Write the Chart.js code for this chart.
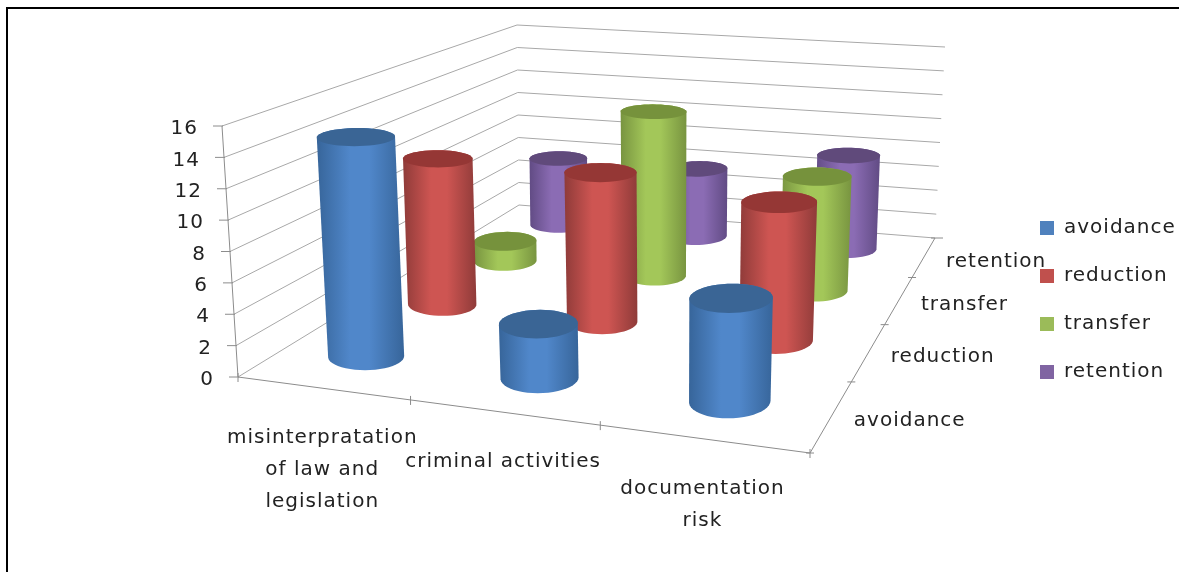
<!DOCTYPE html>
<html>
<head>
<meta charset="utf-8">
<title>Risk response by risk type</title>
<script src="https://cdn.jsdelivr.net/npm/chart.js@4"></script>
<style>
  html, body { margin: 0; background: #fff; overflow: hidden; }
  #frame { position: absolute; left: 6px; top: 7px; right: 0; bottom: 0; border-left: 2px solid #000; border-top: 2px solid #000; }
  #riskChart { position: absolute; left: 0; top: 0; display: block; }
</style>
</head>
<body>
<div id="frame"></div>
<canvas id="riskChart" width="1179" height="572"></canvas>
<script>
const categories = [
  ["misinterpratation", "of law and", "legislation"],
  ["criminal activities"],
  ["documentation", "risk"],
];
const seriesNames = ["avoidance", "reduction", "transfer", "retention"];
const avoidance = [14, 3, 6];
const reduction = [10, 10, 9];
const transfer = [1, 12, 8];
const retention = [5, 5, 7];
const valueTicks = [0, 2, 4, 6, 8, 10, 12, 14, 16];

const seriesColors = ["#4F81BD", "#C0504D", "#9BBB59", "#8064A2"];
// edge, middle and lid shades of each cylinder
const shades = [
  { edge: "#37659A", mid: "#5087CA", lid: "#3A6595" },
  { edge: "#8F3B39", mid: "#CE5552", lid: "#953735" },
  { edge: "#789440", mid: "#A3C759", lid: "#76923C" },
  { edge: "#614B84", mid: "#8B6CB4", lid: "#604A7B" },
];
const textColor = "#222222";
const textFont = "20px 'DejaVu Sans'";

// corners of the floor and of the 16 level on screen: front left, front right, back right, back left
const floorQuad = [[238, 377], [810, 453], [935, 238], [519, 205]];
const ceilQuad = [[222, 126], [820, 180], [945, 47], [517, 25]];

function quadMap(q) {
  const [[x0, y0], [x1, y1], [x2, y2], [x3, y3]] = q;
  const dx1 = x1 - x2, dx2 = x3 - x2, dx3 = x0 - x1 + x2 - x3;
  const dy1 = y1 - y2, dy2 = y3 - y2, dy3 = y0 - y1 + y2 - y3;
  const den = dx1 * dy2 - dx2 * dy1;
  const g = (dx3 * dy2 - dx2 * dy3) / den;
  const h = (dx1 * dy3 - dx3 * dy1) / den;
  const a = x1 - x0 + g * x1, b = x3 - x0 + h * x3;
  const d = y1 - y0 + g * y1, e = y3 - y0 + h * y3;
  return (u, w) => {
    const s = g * u + h * w + 1;
    return [(a * u + b * w + x0) / s, (d * u + e * w + y0) / s];
  };
}
const floorMap = quadMap(floorQuad);
const ceilMap = quadMap(ceilQuad);

// u runs along the categories, w into the depth, f is the height as a share of the y scale
function project(u, w, f) {
  const p = floorMap(u, w), q = ceilMap(u, w);
  return [p[0] + (q[0] - p[0]) * f, p[1] + (q[1] - p[1]) * f];
}

function yShare(yScale, value) {
  return (yScale.bottom - yScale.getPixelForValue(value)) / yScale.height;
}

function line(ctx, a, b) {
  ctx.beginPath();
  ctx.moveTo(a[0], a[1]);
  ctx.lineTo(b[0], b[1]);
  ctx.stroke();
}

function hull(points) {
  const pts = points.slice().sort((a, b) => a[0] - b[0] || a[1] - b[1]);
  const cross = (o, a, b) => (a[0] - o[0]) * (b[1] - o[1]) - (a[1] - o[1]) * (b[0] - o[0]);
  const half = (list) => {
    const out = [];
    list.forEach((p) => {
      while (out.length > 1 && cross(out[out.length - 2], out[out.length - 1], p) <= 0) out.pop();
      out.push(p);
    });
    out.pop();
    return out;
  };
  return half(pts).concat(half(pts.reverse()));
}

function fillPoly(ctx, pts, style) {
  ctx.beginPath();
  pts.forEach((p, i) => (i ? ctx.lineTo(p[0], p[1]) : ctx.moveTo(p[0], p[1])));
  ctx.closePath();
  ctx.fillStyle = style;
  ctx.fill();
}

// shears a projected ring so its ellipse sits level around the given centre
function levelRing(ring, centre) {
  const far = ring.reduce((a, b) => (b[0] > a[0] ? b : a));
  const slope = (far[1] - centre[1]) / (far[0] - centre[0]);
  return ring.map((p) => [p[0], p[1] - slope * (p[0] - centre[0])]);
}

// radius of a cylinder, as a share of one category cell and one series cell
const RADIUS_U = 0.195;
const RADIUS_W = 0.24;
// cylinders stand a little above the floor plane and the lid adds its own thickness
const BASE_LIFT = 2;
const TOP_LIFT = 9;

class CylinderController extends Chart.BarController {
  draw() {
    const ctx = this.chart.ctx;
    const { x: xScale, y: yScale } = this.chart.scales;
    const meta = this.getMeta();
    const rows = this.chart.data.datasets.length;
    const cols = this.chart.data.labels.length;
    const w0 = (this.index + 0.5) / rows;
    const shade = shades[this.index];

    meta.data.forEach((bar, i) => {
      const u0 = (xScale.getPixelForValue(i) - xScale.left) / xScale.width;
      const top = (yScale.bottom - bar.y) / yScale.height;
      let ringBase = [], ringTop = [];
      for (let k = 0; k < 48; k++) {
        const t = (k / 48) * Math.PI * 2;
        const u = u0 + (Math.cos(t) * RADIUS_U) / cols;
        const w = w0 + (Math.sin(t) * RADIUS_W) / rows;
        const b = project(u, w, 0), c = project(u, w, top);
        ringBase.push([b[0], b[1] - BASE_LIFT]);
        ringTop.push([c[0], c[1] - TOP_LIFT]);
      }
      const cb = project(u0, w0, 0), ct = project(u0, w0, top);
      ringBase = levelRing(ringBase, [cb[0], cb[1] - BASE_LIFT]);
      ringTop = levelRing(ringTop, [ct[0], ct[1] - TOP_LIFT]);

      const body = hull(ringBase.concat(ringTop));
      const xs = body.map((p) => p[0]);
      const grad = ctx.createLinearGradient(Math.min(...xs), 0, Math.max(...xs), 0);
      grad.addColorStop(0, shade.edge);
      grad.addColorStop(0.38, shade.mid);
      grad.addColorStop(0.6, shade.mid);
      grad.addColorStop(1, shade.edge);
      fillPoly(ctx, body, grad);
      fillPoly(ctx, ringTop, shade.lid);
    });
  }
}
CylinderController.id = "cylinder";
CylinderController.defaults = Chart.BarController.defaults;
CylinderController.overrides = Chart.BarController.overrides;
Chart.register(CylinderController);

const box3d = {
  id: "box3d",
  beforeLayout(chart) {
    chart.ctx.letterSpacing = "1px";
  },
  afterLayout(chart) {
    chart.legend.left = 1012;
    chart.legend.right = chart.legend.left + chart.legend.width;
  },
  beforeDraw(chart) {
    chart.ctx.letterSpacing = "1px";
  },
  // walls, gridlines and axes go under the cylinders
  beforeDatasetsDraw(chart) {
    const ctx = chart.ctx;
    const yScale = chart.scales.y;
    ctx.save();
    ctx.lineWidth = 1;
    ctx.strokeStyle = "#a8a8a8";
    valueTicks.forEach((v) => {
      const f = yShare(yScale, v);
      const back = project(0, 1, f);
      line(ctx, project(0, 0, f), back);
      line(ctx, back, project(1, 1, f));
    });
    ctx.strokeStyle = "#8c8c8c";
    line(ctx, project(0, 0, 0), project(0, 0, 1));
    line(ctx, project(0, 0, 0), project(1, 0, 0));
    line(ctx, project(1, 0, 0), project(1, 1, 0));
    valueTicks.forEach((v) => {
      const p = project(0, 0, yShare(yScale, v));
      line(ctx, [p[0] - 9, p[1]], [p[0] + 1, p[1]]);
    });
    const cols = chart.data.labels.length;
    const rows = chart.data.datasets.length;
    for (let i = 0; i <= cols; i++) {
      const p = project(i / cols, 0, 0);
      line(ctx, [p[0], p[1] - 4], [p[0], p[1] + 5]);
    }
    for (let j = 0; j <= rows; j++) {
      const p = project(1, j / rows, 0);
      line(ctx, [p[0] - 4, p[1]], [p[0] + (j === rows ? 8 : 4), p[1]]);
    }
    ctx.restore();
  },
  afterDraw(chart) {
    const ctx = chart.ctx;
    const yScale = chart.scales.y;
    ctx.save();
    ctx.font = textFont;
    ctx.fillStyle = textColor;
    ctx.textBaseline = "middle";

    ctx.textAlign = "right";
    valueTicks.forEach((v) => {
      const p = project(0, 0, yShare(yScale, v));
      ctx.fillText(String(v), p[0] - 24, p[1] + 3);
    });

    ctx.textAlign = "center";
    chart.data.labels.forEach((label, i) => {
      const p = project((i + 0.5) / chart.data.labels.length, 0, 0);
      label.forEach((text, n) => {
        ctx.fillText(text, p[0], p[1] + 50 + n * 32);
      });
    });

    ctx.textAlign = "left";
    chart.data.datasets.forEach((ds, j) => {
      const p = project(1, (j + 0.5) / chart.data.datasets.length, 0);
      ctx.fillText(ds.label, p[0] + 22, p[1] + 5);
    });
    ctx.restore();
  },
};

const seriesValues = [avoidance, reduction, transfer, retention];

new Chart(document.getElementById("riskChart"), {
  type: "cylinder",
  data: {
    labels: categories,
    datasets: seriesNames.map((name, j) => ({
      label: name,
      data: seriesValues[j],
      backgroundColor: seriesColors[j],
      borderWidth: 0,
    })),
  },
  plugins: [box3d],
  options: {
    responsive: false,
    animation: false,
    layout: { padding: { top: 28 } },
    scales: {
      x: { type: "category", display: false },
      y: { type: "linear", min: 0, max: 16, display: false },
    },
    plugins: {
      tooltip: { enabled: false },
      title: { display: false },
      legend: {
        position: "right",
        labels: {
          boxWidth: 14,
          boxHeight: 14,
          padding: 28,
          color: textColor,
          font: { family: "'DejaVu Sans'", size: 20 },
        },
      },
    },
  },
});
</script>
</body>
</html>
